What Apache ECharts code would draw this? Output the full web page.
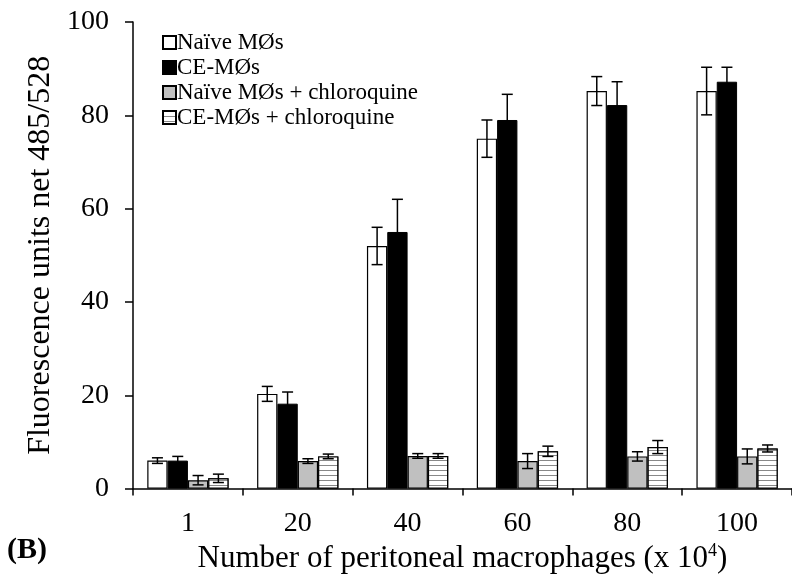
<!DOCTYPE html>
<html>
<head>
<meta charset="utf-8">
<script src="https://cdn.jsdelivr.net/npm/echarts@6/dist/echarts.min.js"></script>
<style>
  html, body { margin: 0; padding: 0; background: #fff; }
  #chart { width: 792px; height: 579px; }
</style>
</head>
<body>
<div id="chart"></div>
<script>
// categories (x 10^4 macrophages)
const categories = ['1', '20', '40', '60', '80', '100'];

// means
const naive = [6, 20.3, 52, 75, 85.2, 85.2];
const ce = [6, 18.2, 55, 79, 82.2, 87.2];
const naiveChl = [1.8, 5.9, 7, 5.9, 6.9, 6.9];
const ceChl = [2.2, 6.9, 7, 8, 8.9, 8.6];

// error (+/-)
const naiveErr = [0.6, 1.6, 4, 4, 3.1, 5.1];
const ceErr = [0.9, 2.5, 7, 5.5, 5, 3.1];
const naiveChlErr = [1, 0.5, 0.5, 1.6, 1, 1.6];
const ceChlErr = [0.9, 0.5, 0.5, 1.1, 1.4, 0.75];

const seriesNames = ['Naïve MØs', 'CE-MØs', 'Naïve MØs + chloroquine', 'CE-MØs + chloroquine'];
const means = [naive, ce, naiveChl, ceChl];
const errs = [naiveErr, ceErr, naiveChlErr, ceChlErr];

const font = 'Liberation Serif';
const catGap = 0.26; // barCategoryGap fraction

const chart = echarts.init(document.getElementById('chart'));

const barStyles = [
  { color: '#fff', borderColor: '#000', borderWidth: 1.2 },
  { color: '#000', borderColor: '#000', borderWidth: 1 },
  { color: '#c0c0c0', borderColor: '#000', borderWidth: 1.2 },
  {
    color: '#fff', borderColor: '#000', borderWidth: 1.2,
    decal: {
      symbol: 'rect', symbolSize: 1, rotation: 0,
      dashArrayX: [1, 0], dashArrayY: [1, 4],
      color: '#888', backgroundColor: '#fff'
    }
  }
];

const barSeries = seriesNames.map((name, i) => ({
  name: name,
  type: 'bar',
  data: means[i],
  barGap: '0%',
  barCategoryGap: (catGap * 100) + '%',
  itemStyle: barStyles[i],
  z: 2
}));

// error bars drawn with a custom series
const errData = [];
means.forEach((m, s) => {
  m.forEach((v, c) => errData.push([c, v - errs[s][c], v + errs[s][c], s]));
});

const errSeries = {
  type: 'custom',
  data: errData,
  z: 5,
  silent: true,
  renderItem: function (params, api) {
    const c = api.value(0);
    const lo = api.coord([c, api.value(1)]);
    const hi = api.coord([c, api.value(2)]);
    const band = api.size([1, 0])[0];
    const bw = band * (1 - catGap) / 4;
    const s = api.value(3);
    const x = lo[0] - band * (1 - catGap) / 2 + bw * (s + 0.5);
    const cap = 5.5;
    const st = { stroke: '#000', lineWidth: 1.5 };
    return {
      type: 'group',
      children: [
        { type: 'line', shape: { x1: x, y1: lo[1], x2: x, y2: hi[1] }, style: st },
        { type: 'line', shape: { x1: x - cap, y1: lo[1], x2: x + cap, y2: lo[1] }, style: st },
        { type: 'line', shape: { x1: x - cap, y1: hi[1], x2: x + cap, y2: hi[1] }, style: st }
      ]
    };
  }
};

const option = {
  backgroundColor: '#fff',
  animation: false,
  textStyle: { fontFamily: font, color: '#000' },
  grid: { left: 133, right: -7, top: 22, bottom: 90 },
  legend: {
    data: seriesNames,
    orient: 'vertical',
    left: 157,
    top: 26,
    itemGap: 2,
    itemWidth: 13,
    itemHeight: 13,
    icon: 'rect',
    textStyle: { fontFamily: font, fontSize: 23, color: '#000', padding: [0, 0, 0, -4] }
  },
  xAxis: {
    type: 'category',
    data: categories,
    name: 'Number of peritoneal macrophages (x 10{sup|4})',
    nameLocation: 'middle',
    nameGap: 46,
    nameTextStyle: {
      fontFamily: font, fontSize: 31, color: '#000',
      rich: { sup: { fontFamily: font, fontSize: 18, verticalAlign: 'top', padding: [0, 0, 14, 0] } }
    },
    axisLine: { lineStyle: { color: '#000', width: 1.5 } },
    axisTick: { show: true, length: 7, lineStyle: { color: '#000', width: 1.5 } },
    axisLabel: { fontFamily: font, fontSize: 28, color: '#000', margin: 21 }
  },
  yAxis: {
    type: 'value',
    min: 0,
    max: 100,
    interval: 20,
    name: 'Fluorescence units net 485/528',
    nameLocation: 'middle',
    nameGap: 66,
    nameTextStyle: { fontFamily: font, fontSize: 32, color: '#000' },
    axisLine: { show: true, lineStyle: { color: '#000', width: 1.5 } },
    axisTick: { show: true, length: 8, lineStyle: { color: '#000', width: 1.5 } },
    axisLabel: { fontFamily: font, fontSize: 28, color: '#000', margin: 24 },
    splitLine: { show: false }
  },
  graphic: [{
    type: 'text',
    left: 7,
    top: 535,
    style: { text: '(B)', fontFamily: font, fontSize: 30, fontWeight: 'bold', fill: '#000' }
  }],
  series: barSeries.concat([errSeries])
};

chart.setOption(option);
</script>
</body>
</html>
